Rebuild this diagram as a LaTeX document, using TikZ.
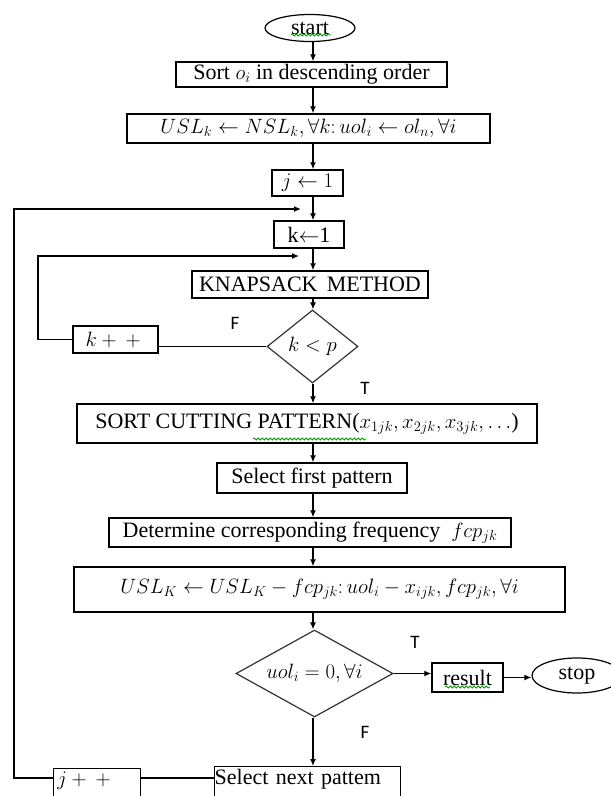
\documentclass[tikz,border=0pt]{standalone}
\usepackage{fontspec}
\setmainfont{Liberation Serif}
\newfontfamily\labfont{Carlito}
\usetikzlibrary{shapes.geometric,arrows.meta,decorations.pathmorphing}
\begin{document}
\begin{tikzpicture}[x=1pt,y=-1pt,
  fs/.style={font=\fontsize{22}{26}\selectfont},
  box/.style={draw,line width=1.4pt,rectangle,inner sep=0pt,fs},
  lbox/.style={box,align=left},
  oval/.style={draw,line width=1.2pt,ellipse,inner sep=0pt,fs},
  dia/.style={draw=black!80,line width=1.2pt,diamond,inner sep=0pt,fs,label={[fs]center:#1}},
  arr/.style={line width=1.3pt,-{Latex[length=7pt,width=6pt]}},
  ln/.style={line width=1.3pt},
  lab/.style={font=\labfont\fontsize{19}{22}\selectfont,inner sep=0pt},
  squig/.style={draw=green!60!black,line width=0.8pt,decorate,decoration={snake,segment length=4pt,amplitude=1pt}}
]
\useasboundingbox (0,0) rectangle (611,796);
\fill[white] (0,0) rectangle (611,796);

\coordinate (col) at (313,0);

\node[oval,minimum width=90,minimum height=27] (start) at (310,28) {start};
\node[box,minimum width=271,minimum height=25] (sort) at (311.5,74.5) {Sort $o_i$ in descending order};
\node[box,minimum width=363,minimum height=29] (usl1) at (308.5,128.5) {$USL_k \leftarrow NSL_k, \forall k{:}\, uol_i \leftarrow ol_n, \forall i$};
\node[box,minimum width=71,minimum height=26] (j1) at (307.5,183) {$j \leftarrow 1$};
\node[box,minimum width=70,minimum height=27] (k1) at (309,234.5) {k$\leftarrow$1};
\node[box,minimum width=236,minimum height=27] (knap) at (310,284.5) {KNAPSACK\, METHOD};
\node[dia=$k<p$,minimum width=91,minimum height=73] (dia1) at (312.5,346.5) {};
\node[box,minimum width=85,minimum height=27] (kpp) at (115.5,339.5) {$k + {} + {}$};
\node[box,minimum width=460,minimum height=39] (sortcut) at (307,423.5) {SORT CUTTING PATTERN($x_{1jk}, x_{2jk}, x_{3jk}, \dots$)};
\node[box,minimum width=190,minimum height=30] (selfirst) at (312,478) {Select first pattern};
\node[box,minimum width=402,minimum height=29] (det) at (310,532.5) {Determine corresponding frequency\ \ $fcp_{jk}$};
\node[box,minimum width=491,minimum height=45] (uslK) at (319.5,589.5) {$USL_K \leftarrow USL_K - fcp_{jk}{:}\, uol_i - x_{ijk}, fcp_{jk}, \forall i$};
\node[dia={$uol_i = 0, \forall i$},minimum width=157,minimum height=87] (dia2) at (314.5,673.5) {};
\node[box,minimum width=71,minimum height=29] (result) at (467.5,677.5) {result};
\node[oval,minimum width=90,minimum height=35] (stop) at (577,675.5) {stop};
\node[lbox,text width=87,minimum height=34,anchor=north west,text depth=14pt] (jpp) at (53,768) {\,$j + {} + {}$};
\node[lbox,text width=186,minimum height=34,anchor=north west,text depth=14pt] (selnext) at (214,766) {Select next pattem};

\node[lab] (f1) at (235,323) {F};
\node[lab] (t1) at (365,388) {T};
\node[lab] (t2) at (415,642) {T};
\node[lab] (f2) at (365,732) {F};

% main column arrows
\draw[arr] (start.south -| col) -- (sort.north -| col);
\draw[arr] (sort.south -| col) -- (usl1.north -| col);
\draw[arr] (usl1.south -| col) -- (j1.north -| col);
\draw[arr] (j1.south -| col) -- (k1.north -| col);
\draw[arr] (k1.south -| col) -- (knap.north -| col);
\draw[arr] (knap.south -| col) -- (dia1.north -| col);
\draw[arr] (dia1.south -| col) -- (sortcut.north -| col);
\draw[arr] (sortcut.south -| col) -- (selfirst.north -| col);
\draw[arr] (selfirst.south -| col) -- (det.north -| col);
\draw[arr] (det.south -| col) -- (uslK.north -| col);
\draw[arr] (uslK.south -| col) -- (dia2.north -| col);
\draw[arr] (dia2.south -| col) -- (selnext.north -| col);

% inner loop
\coordinate (innerL) at (38,256);
\coordinate (innerR) at (299,256);
\draw[ln] (dia1.west) -- (dia1.west -| kpp.east);
\draw[arr] (kpp.west) -| (innerL) -- (innerR);

% outer loop
\coordinate (botline) at (0,778);
\coordinate (outerL) at (14,209);
\coordinate (outerR) at (301,209);
\draw[ln] (selnext.west |- botline) -- (jpp.east |- botline);
\draw[arr] (jpp.west |- botline) -| (outerL) -- (outerR);

% exits
\draw[arr] (dia2.east) -- (dia2.east -| result.west);
\draw[arr] (result.east) -- (result.east -| stop.west);

% spell-check squiggles
\draw[squig] (291,35) -- (331,35);
\draw[squig] (253,439) -- (366,439);
\draw[squig] (445,687) -- (490,687);
\end{tikzpicture}
\end{document}
